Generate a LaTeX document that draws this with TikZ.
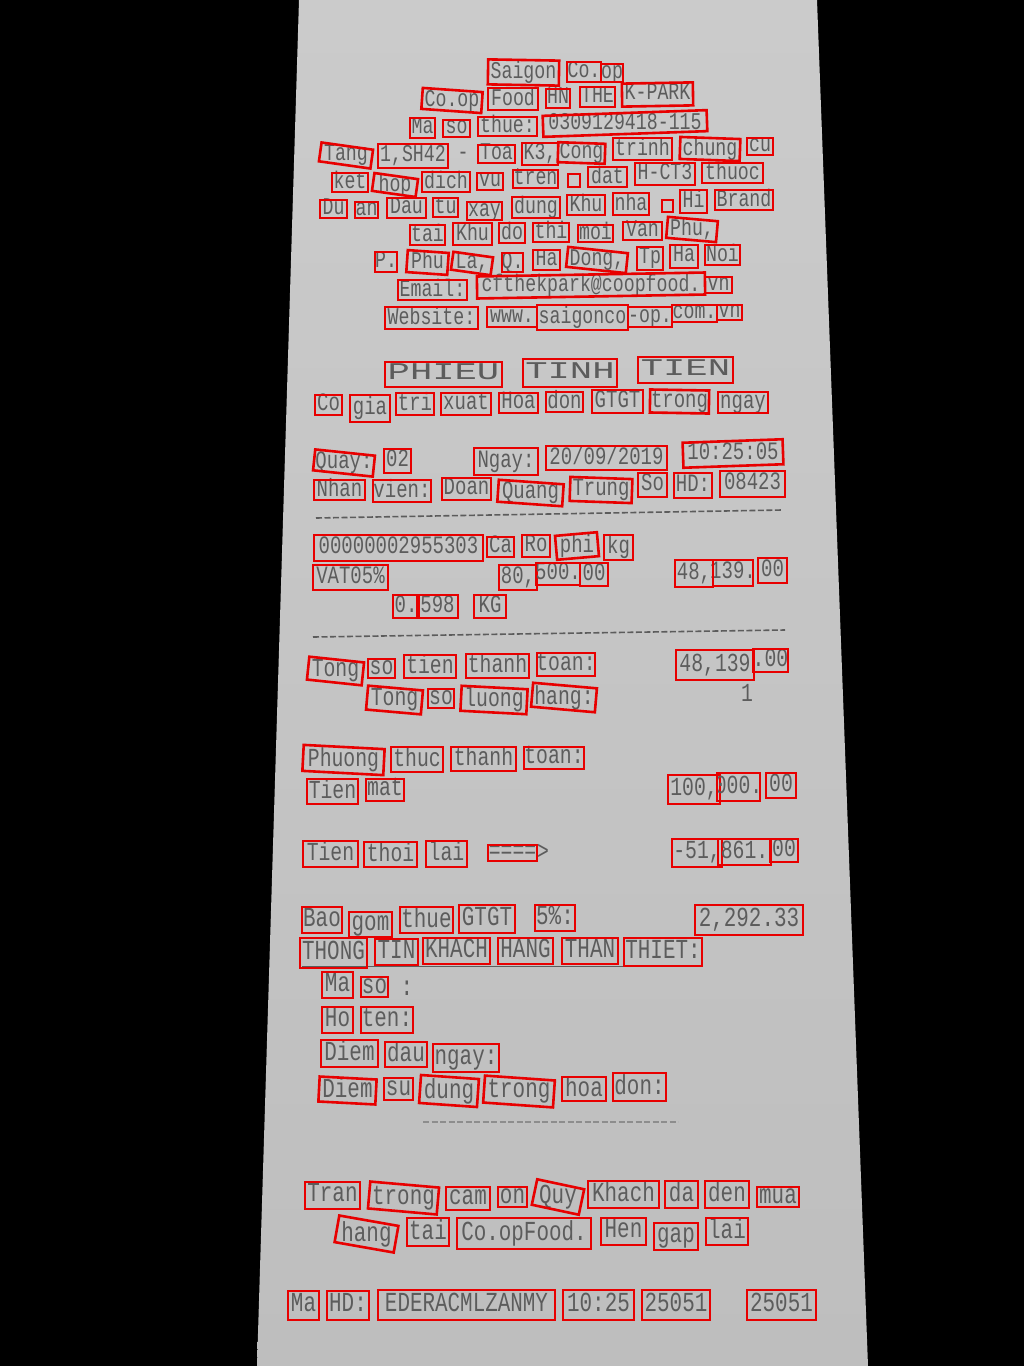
\documentclass[tikz,border=0pt]{standalone}
\usepackage{fontspec}
\newfontfamily\rf[FakeStretch=0.76]{Liberation Mono}
\newfontfamily\rfw[FakeStretch=1.55]{Liberation Mono}
\definecolor{ink}{RGB}{92,92,92}
\definecolor{ocr}{RGB}{232,0,0}
\definecolor{paperT}{RGB}{203,203,203}
\definecolor{paperB}{RGB}{190,190,190}
\newcounter{wc}
\def\fs{24}
\tikzset{
  wb/.style={draw=ocr, line width=2.6pt, inner sep=0pt},
  inktext/.style={inner sep=0pt, text=ink, font=\rf\fontsize{\fs}{\fs}\selectfont},
  rulerline/.style={draw=ink, line width=1.6pt, dash pattern=on 6pt off 2.5pt},
}
\newcommand\W[6]{\stepcounter{wc}\edef\wn{w\number\value{wc}}\edef\tn{t\number\value{wc}}%
  \node[inktext] (\tn) at (#1,#2) {\vphantom{Ag}#6};
  \node[wb, minimum width=#3pt, minimum height=#4pt, rotate=#5] (\wn) at (#1,#2) {};}
\begin{document}
\begin{tikzpicture}[x=1pt,y=-1pt]
\useasboundingbox (0,0) rectangle (1024,1366);
\fill[black] (0,0) rectangle (1024,1366);
\shade[top color=paperT, bottom color=paperB] (299,0) -- (817,0) -- (868,1366) -- (257,1366) -- cycle;
% ---- header
\def\fs{24}
\W{523.5}{72.5}{71}{25}{-1}{Saigon}
\W{584}{72}{34}{20}{0}{Co.}
\W{612}{73}{22}{18}{0}{op}
\W{452}{100.5}{60}{21}{-4}{Co.op}
\W{513}{99}{50}{22}{0}{Food}
\W{558}{98.5}{24}{19}{0}{HN}
\W{597.5}{97}{35}{20}{0}{THE}
\W{657.5}{94.5}{71}{23}{1}{K-PARK}
\W{422.5}{128}{25}{20}{0}{Ma}
\W{456.5}{128.5}{27}{17}{0}{so}
\W{507.5}{126.5}{59}{19}{0}{thue:}
\W{625}{123.5}{164}{21}{2}{0309129418-115}
\W{346}{155.5}{52}{19}{-8}{Tang}
\W{413}{156}{70}{24}{0}{1,SH42}
\node[inktext] (dash1) at (463,156) {-};
\W{496.5}{154}{37}{18}{0}{Toa}
\W{540}{154}{36}{22}{0}{K3,}
\W{581.5}{153}{47}{20}{-2}{Cong}
\W{642.5}{149}{59}{22}{0}{trinh}
\W{710}{149}{60}{22}{-2}{chung}
\W{760}{146.5}{26}{17}{0}{cu}
\W{350}{182.5}{36}{19}{0}{ket}
\W{395}{185}{44}{18}{-8}{hop}
\W{446}{182}{48}{20}{0}{dich}
\W{490}{181.5}{26}{17}{0}{vu}
\W{535.5}{179}{45}{18}{0}{tren}
\W{574}{180.5}{12}{13}{0}{}
\W{607.5}{177}{39}{20}{0}{dat}
\W{665}{174}{60}{22}{0}{H-CT3}
\W{732.5}{173}{61}{20}{0}{thuoc}
\W{333.5}{209}{27}{18}{0}{Du}
\W{366.5}{210}{23}{16}{0}{an}
\W{406.5}{208}{39}{20}{0}{Dau}
\W{445.5}{207.5}{25}{19}{0}{tu}
\W{484.5}{211}{35}{18}{0}{xay}
\W{536}{207.5}{48}{21}{0}{dung}
\W{586}{205}{38}{20}{0}{Khu}
\W{631}{204}{36}{22}{0}{nha}
\W{667.5}{206}{11}{12}{0}{}
\W{693.5}{201.5}{27}{23}{0}{Hi}
\W{744}{200}{58}{20}{0}{Brand}
\W{427.5}{235}{35}{20}{0}{tai}
\W{472.5}{234}{39}{22}{0}{Khu}
\W{512}{233}{26}{20}{0}{do}
\W{551}{232.5}{36}{19}{0}{thi}
\W{595.5}{233.5}{35}{17}{0}{moi}
\W{642.5}{231}{39}{18}{0}{Van}
\W{692}{229.5}{50}{21}{-5}{Phu,}
\W{386}{262}{22}{20}{0}{P.}
\W{427.5}{262.5}{41}{22}{-4}{Phu}
\W{472}{263.5}{40}{18}{-8}{La,}
\W{512.5}{262.5}{21}{19}{0}{Q.}
\W{546.5}{260}{27}{20}{0}{Ha}
\W{597}{260}{60}{20}{-6}{Dong,}
\W{650}{258.5}{26}{23}{0}{Tp}
\W{684}{256.5}{28}{23}{0}{Ha}
\W{722.5}{255}{35}{20}{0}{Noi}
\W{432.5}{290}{69}{20}{0}{Email:}
\W{591}{285.5}{228}{22}{1}{cfthekpark@coopfood.}
\W{718.5}{285}{27}{16}{0}{vn}
\W{431.5}{318}{93}{22}{0}{Website:}
\W{512}{317}{50}{20}{0}{www.}
\W{582.5}{317.5}{91}{25}{0}{saigonco}
\W{650}{317}{44}{20}{0}{-op.}
\W{694.5}{313.5}{45}{17}{0}{com.}
\W{729.5}{312.5}{25}{15}{0}{vn}
% ---- title
\W{443.5}{374.5}{117}{25}{0}{\rfw PHIEU}
\W{570}{373}{94}{28}{0}{\rfw TINH}
\W{685.5}{370}{95}{26}{0}{\rfw TIEN}
\def\fs{25}
\W{328.5}{405}{27}{20}{0}{Co}
\W{370}{408.5}{40}{27}{0}{gia}
\W{415}{404}{38}{22}{0}{tri}
\W{466}{404}{50}{22}{0}{xuat}
\W{518.5}{403}{39}{20}{0}{Hoa}
\W{564.5}{402}{37}{20}{0}{don}
\W{617.5}{401.5}{51}{23}{0}{GTGT}
\W{679.5}{401.5}{59}{23}{-1}{trong}
\W{743}{402.5}{50}{21}{0}{ngay}
\W{344}{463}{60}{21}{-6}{Quay:}
\W{397.5}{461}{27}{24}{0}{02}
\W{506}{461.5}{64}{27}{0}{Ngay:}
\W{606.5}{458}{121}{24}{0}{20/09/2019}
\W{733}{453.5}{100}{25}{2}{10:25:05}
\W{339.5}{490}{51}{20}{0}{Nhan}
\W{402}{491}{58}{22}{0}{vien:}
\W{466.5}{489}{49}{22}{0}{Doan}
\W{530.5}{493}{65}{22}{-4}{Quang}
\W{601}{490}{62}{24}{-2}{Trung}
\W{652.5}{485}{29}{24}{0}{So}
\W{693}{485.5}{38}{25}{0}{HD:}
\W{752.5}{484}{65}{26}{0}{08423}
\coordinate (r1a) at (316,518);
\coordinate (r1b) at (782,510);
\draw[rulerline] (r1a) -- (r1b);
\W{398.5}{548}{169}{26}{0}{00000002955303}
\W{500.5}{547}{27}{20}{0}{Ca}
\W{536}{546}{28}{22}{0}{Ro}
\W{577}{546}{42}{24}{5}{phi}
\W{618.5}{547.5}{29}{25}{0}{kg}
\W{350.5}{577.5}{75}{25}{0}{VAT05\%}
\W{518}{577.5}{38}{25}{0}{80,}
\W{558}{574}{44}{22}{0}{500.}
\W{594}{574.5}{28}{23}{0}{00}
\W{694}{573.5}{38}{27}{0}{48,}
\W{733}{573}{40}{26}{0}{139.}
\W{772.5}{570.5}{29}{25}{0}{00}
\W{406}{606.5}{26}{23}{0}{0.}
\W{437.5}{606.5}{41}{23}{0}{598}
\W{490}{606.5}{32}{23}{0}{KG}
\coordinate (r2a) at (313,637);
\coordinate (r2b) at (785,630);
\draw[rulerline] (r2a) -- (r2b);
% ---- totals
\def\fs{26}
\W{335.5}{671}{55}{23}{-6}{Tong}
\W{381.5}{668.5}{27}{19}{0}{so}
\W{430}{666.5}{52}{23}{0}{tien}
\W{497.5}{666}{63}{24}{0}{thanh}
\W{566}{664.5}{58}{23}{0}{toan:}
\W{715}{665}{78}{30}{0}{48,139}
\W{770.5}{660.5}{35}{23}{0}{.00}
\node[inktext] (one) at (747,693) {1};
\W{394.5}{700}{55}{24}{-5}{Tong}
\W{441}{698.5}{26}{19}{0}{so}
\W{494}{700}{66}{25}{-3}{luong}
\W{564}{697.5}{64}{24}{-5}{hang:}
\W{343.5}{760}{81}{26}{-3}{Phuong}
\W{417}{759.5}{52}{25}{0}{thuc}
\W{483.5}{759}{65}{24}{0}{thanh}
\W{554}{758}{60}{22}{0}{toan:}
\W{332.5}{791.5}{51}{25}{0}{Tien}
\W{385}{790}{38}{22}{0}{mat}
\W{694}{789.5}{52}{29}{0}{100,}
\W{738.5}{787}{43}{28}{0}{000.}
\W{781}{785.5}{30}{25}{0}{00}
\W{330.5}{854}{55}{26}{0}{Tien}
\W{390.5}{854.5}{53}{25}{0}{thoi}
\W{446.5}{854}{41}{26}{0}{lai}
\W{512.5}{853}{49}{16}{0}{====}
\node[inktext] (gt) at (543,852) {>};
\W{697}{853}{50}{28}{0}{-51,}
\W{744.5}{852}{53}{26}{0}{861.}
\W{784}{850.5}{28}{23}{0}{00}
% ---- tax and customer
\def\fs{27.5}
\W{322}{920}{40}{26}{0}{Bao}
\W{370.5}{924.5}{43}{25}{0}{gom}
\W{426.5}{920}{53}{26}{0}{thue}
\W{487}{919}{56}{28}{0}{GTGT}
\W{555}{918}{40}{26}{0}{5\%:}
\W{749}{920}{108}{30}{0}{2,292.33}
\coordinate (ula) at (302,966);
\coordinate (ulb) at (700,966);
\draw[ink, line width=1pt] (ula) -- (ulb);
\W{333.5}{953}{67}{30}{0}{THONG}
\W{396.5}{952}{43}{26}{0}{TIN}
\W{456.5}{951}{67}{26}{0}{KHACH}
\W{525.5}{951}{55}{26}{0}{HANG}
\W{590}{951}{56}{26}{0}{THAN}
\W{663}{952}{78}{28}{0}{THIET:}
\W{337.5}{985}{31}{26}{0}{Ma}
\W{374.5}{987}{27}{20}{0}{so}
\node[inktext] (colon) at (407,988) {:};
\W{337.5}{1020}{31}{26}{0}{Ho}
\W{387}{1020}{52}{26}{0}{ten:}
\W{349.5}{1053.5}{57}{27}{0}{Diem}
\W{406}{1054.5}{42}{25}{0}{dau}
\W{466}{1058}{66}{28}{0}{ngay:}
\W{347.5}{1090.5}{57}{25}{-3}{Diem}
\W{398.5}{1089}{29}{22}{0}{su}
\W{449}{1091}{58}{28}{-4}{dung}
\W{519}{1091.5}{70}{27}{-4}{trong}
\W{584}{1089}{44}{24}{0}{hoa}
\W{639.5}{1087}{53}{28}{0}{don:}
\coordinate (r3a) at (423,1122);
\coordinate (r3b) at (678,1122);
\draw[rulerline, line width=1.1pt, draw=ink!70] (r3a) -- (r3b);
% ---- footer
\W{332.5}{1195.5}{55}{27}{0}{Tran}
\W{403.5}{1198}{69}{27}{-5}{trong}
\W{468}{1198.5}{44}{23}{0}{cam}
\W{512.5}{1197}{29}{20}{0}{on}
\W{558}{1197}{48}{26}{-12}{Quy}
\W{623.5}{1194.5}{71}{27}{0}{Khach}
\W{681.5}{1194.5}{33}{27}{0}{da}
\W{727}{1194.5}{44}{27}{0}{den}
\W{778}{1197}{42}{20}{0}{mua}
\W{366.5}{1234}{60}{27}{-10}{hang}
\W{428}{1232}{42}{28}{0}{tai}
\W{524}{1233.5}{134}{31}{0}{Co.opFood.}
\W{623.5}{1231.5}{45}{27}{0}{Hen}
\W{676}{1236.5}{44}{27}{0}{gap}
\W{727}{1231.5}{42}{27}{0}{lai}
\W{303.5}{1305.5}{31}{29}{0}{Ma}
\W{348}{1305.5}{42}{29}{0}{HD:}
\W{466.5}{1305}{177}{30}{0}{EDERACMLZANMY}
\W{598.5}{1305}{71}{30}{0}{10:25}
\W{676}{1305}{68}{30}{0}{25051}
\W{781.5}{1305}{69}{30}{0}{25051}
\end{tikzpicture}
\end{document}
